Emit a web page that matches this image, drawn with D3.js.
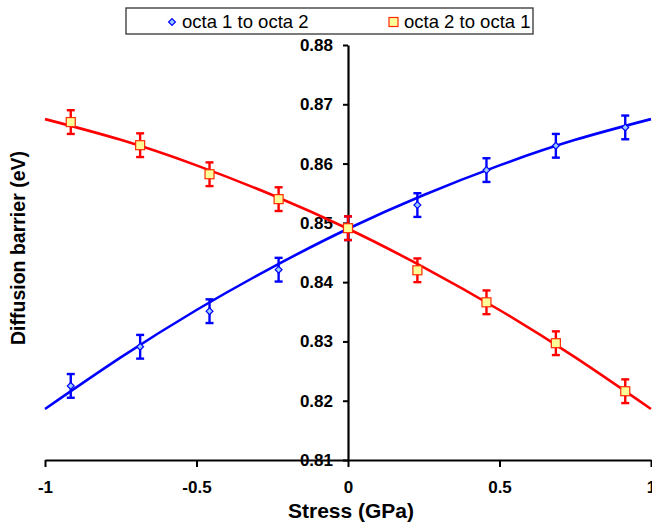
<!DOCTYPE html>
<html><head><meta charset="utf-8">
<script src="https://cdn.jsdelivr.net/npm/d3@7"></script>
<style>body{margin:0;background:#fff}svg{display:block}text{font-family:"Liberation Sans",Arial,sans-serif}</style>
</head><body>
<svg id="c" width="652" height="526"></svg>
<script>
const stress = [-0.915, -0.686, -0.457, -0.229, 0, 0.229, 0.457, 0.686, 0.915];
const octa12 = [0.8225, 0.8291, 0.8351, 0.8421, 0.8491, 0.8530, 0.8589, 0.8630, 0.8661];
const octa21 = [0.8670, 0.8631, 0.8582, 0.8540, 0.8491, 0.8420, 0.8366, 0.8297, 0.8216];
const errBar = [0.002, 0.002, 0.002, 0.002, 0.002, 0.002, 0.002, 0.002, 0.002];
const fitStress = [-1, -0.75, -0.5, -0.25, 0, 0.25, 0.5, 0.75, 1];
const fit12 = [0.8186, 0.8273, 0.8353, 0.8425, 0.8490, 0.8547, 0.8597, 0.8640, 0.8675];
const fit21 = [0.8675, 0.8640, 0.8597, 0.8547, 0.8490, 0.8425, 0.8353, 0.8273, 0.8186];
const xTicks = [-1, -0.5, 0, 0.5, 1];
const yTicks = [0.81, 0.82, 0.83, 0.84, 0.85, 0.86, 0.87, 0.88];
const seriesNames = ["octa 1 to octa 2", "octa 2 to octa 1"];

const svg = d3.select("#c");
const x = d3.scaleLinear().domain([-1, 1]).range([45, 651]);
const y = d3.scaleLinear().domain([0.81, 0.88]).range([460, 45]);

// axes
const xAxis = svg.append("g").attr("transform", `translate(0,${y(0.81)})`)
  .call(d3.axisBottom(x).tickValues(xTicks).tickSize(7).tickSizeOuter(0).tickPadding(14).tickFormat(d => d === 0 ? "0" : String(d)));
const yAxis = svg.append("g").attr("transform", `translate(${x(0)},0)`)
  .call(d3.axisLeft(y).tickValues(yTicks).tickSize(5).tickSizeOuter(0).tickPadding(10).tickFormat(d3.format(".2f")));
[xAxis, yAxis].forEach(g => {
  g.select(".domain").attr("stroke", "#000").attr("stroke-width", 2.2);
  g.selectAll(".tick line").attr("stroke", "#000").attr("stroke-width", 2);
  g.selectAll(".tick text").attr("font-size", 17).attr("font-weight", "bold").attr("fill", "#000")
    .style("font-family", '"Liberation Sans",Arial,sans-serif');
});

// fit curves
const line = d3.line().x(d => x(d[0])).y(d => y(d[1])).curve(d3.curveNatural);
svg.append("path").datum(fitStress.map((s, i) => [s, fit12[i]]))
  .attr("d", line).attr("fill", "none").attr("stroke", "#0000ff").attr("stroke-width", 2.6);
svg.append("path").datum(fitStress.map((s, i) => [s, fit21[i]]))
  .attr("d", line).attr("fill", "none").attr("stroke", "#ff0000").attr("stroke-width", 2.6);

function errorBars(vals, color) {
  const g = svg.append("g").attr("stroke", color).attr("stroke-width", 2.4);
  stress.forEach((s, i) => {
    const cx = x(s), y1 = y(vals[i] + errBar[i]), y2 = y(vals[i] - errBar[i]);
    g.append("line").attr("x1", cx).attr("x2", cx).attr("y1", y1).attr("y2", y2);
    g.append("line").attr("x1", cx - 4).attr("x2", cx + 4).attr("y1", y1).attr("y2", y1);
    g.append("line").attr("x1", cx - 4).attr("x2", cx + 4).attr("y1", y2).attr("y2", y2);
  });
}
errorBars(octa12, "#0000ff");
errorBars(octa21, "#ff0000");

const diamond = d3.symbol().type(d3.symbolDiamond2).size(30);
svg.append("g").selectAll("path").data(stress).join("path")
  .attr("d", diamond).attr("transform", (s, i) => `translate(${x(s)},${y(octa12[i])})`)
  .attr("fill", "#99ccff").attr("stroke", "#0000ff").attr("stroke-width", 1.2);
svg.append("g").selectAll("rect").data(stress).join("rect")
  .attr("x", s => x(s) - 4.5).attr("y", (s, i) => y(octa21[i]) - 4.5)
  .attr("width", 9).attr("height", 9)
  .attr("fill", "#ffff99").attr("stroke", "#ff2a00").attr("stroke-width", 1.2);

// axis titles
svg.append("text").attr("x", 351).attr("y", 518).attr("text-anchor", "middle")
  .attr("font-size", 21).attr("font-weight", "bold").text("Stress (GPa)");
svg.append("text").attr("transform", "translate(25,248) rotate(-90)").attr("text-anchor", "middle")
  .attr("font-size", 19.5).attr("font-weight", "bold").text("Diffusion barrier (eV)");

// legend
const lg = svg.append("g");
lg.append("rect").attr("x", 126).attr("y", 8).attr("width", 407).attr("height", 26)
  .attr("fill", "#fff").attr("stroke", "#333").attr("stroke-width", 1.3);
lg.append("path").attr("d", diamond).attr("transform", "translate(172,22)")
  .attr("fill", "#99ccff").attr("stroke", "#0000ff").attr("stroke-width", 1.2);
lg.append("text").attr("x", 182).attr("y", 28).attr("font-size", 18.5).text(seriesNames[0]);
lg.append("rect").attr("x", 389).attr("y", 17.5).attr("width", 9).attr("height", 9)
  .attr("fill", "#ffff99").attr("stroke", "#ff2a00").attr("stroke-width", 1.2);
lg.append("text").attr("x", 404).attr("y", 28).attr("font-size", 18.5).text(seriesNames[1]);
</script>
</body></html>
